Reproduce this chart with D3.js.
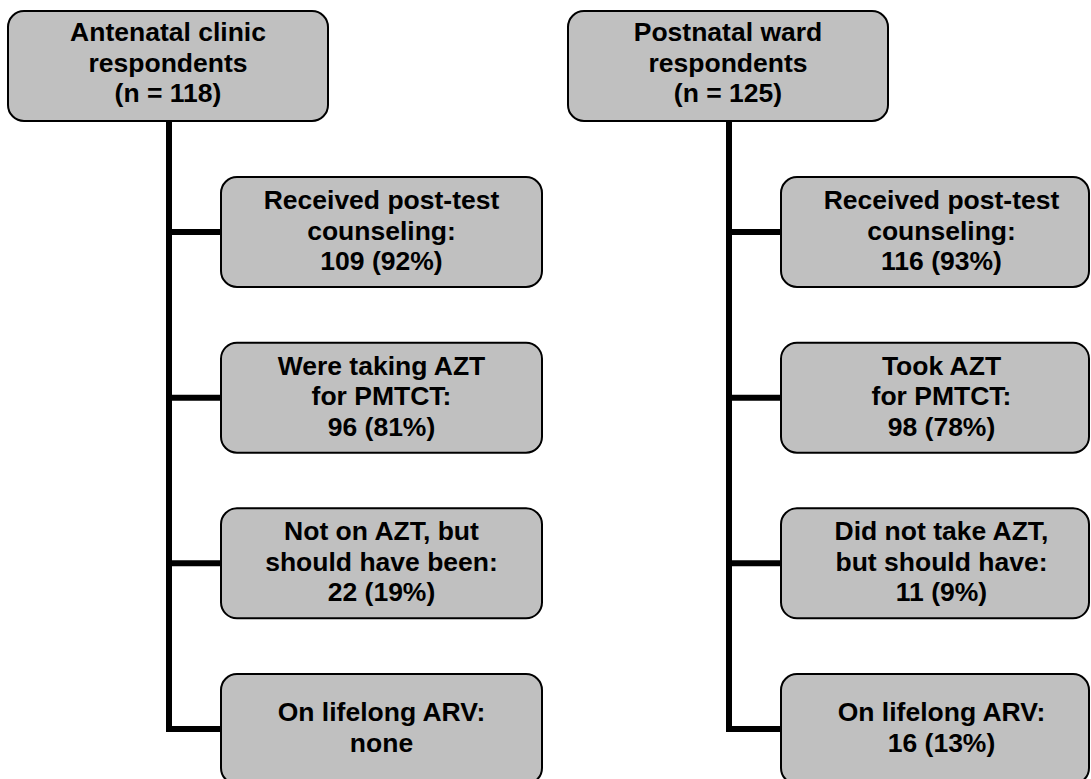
<!DOCTYPE html>
<html>
<head>
<meta charset="utf-8">
<script src="https://cdn.jsdelivr.net/npm/d3@7"></script>
<style>
  body { margin: 0; background: #fff; }
  text { font-family: "Liberation Sans", Arial, sans-serif; font-weight: bold; fill: #000; }
</style>
</head>
<body>
<div id="vis"></div>
<script>
const FRAME_WIDTH = 1091;
const FRAME_HEIGHT = 779;

// the two groups of respondents
const groups = ["Antenatal clinic", "Postnatal ward"];
const totals = [118, 125];

// outcome labels (text lines before the count) for each group
const leftLabels = [
  ["Received post-test", "counseling:"],
  ["Were taking AZT", "for PMTCT:"],
  ["Not on AZT, but", "should have been:"],
  ["On lifelong ARV:"]
];
const rightLabels = [
  ["Received post-test", "counseling:"],
  ["Took AZT", "for PMTCT:"],
  ["Did not take AZT,", "but should have:"],
  ["On lifelong ARV:"]
];
const leftCounts = [109, 96, 22, 0];
const leftPct = [92, 81, 19, null];
const rightCounts = [116, 98, 11, 16];
const rightPct = [93, 78, 9, 13];

const LINE_H = 30.5;
const BOX_H = 110;

const svg = d3.select("#vis")
  .append("svg")
    .attr("width", FRAME_WIDTH)
    .attr("height", FRAME_HEIGHT);

// row positions for the outcome boxes
const Y_ROW = d3.scaleLinear().domain([0, 3]).range([177, 674]);

const cols = [
  {trunk: 169, top: {x: 8, w: 320}, box: {x: 221, w: 321, tx: 381.5},
   labels: leftLabels, counts: leftCounts, pct: leftPct},
  {trunk: 729, top: {x: 568, w: 320}, box: {x: 781, w: 308, tx: 941.5},
   labels: rightLabels, counts: rightCounts, pct: rightPct}
];

function countText(c, p) {
  return p === null ? "none" : c + " (" + p + "%)";
}

function writeLines(g, lines, cx, cy, off) {
  const t = g.append("text").attr("text-anchor", "middle").style("font-size", "26.5px");
  lines.forEach((l, i) => {
    t.append("tspan")
      .attr("x", cx)
      .attr("y", cy - (lines.length - 1) / 2 * LINE_H + i * LINE_H + off)
      .text(l);
  });
}

cols.forEach((c, gi) => {
  const g = svg.append("g");
  const rows = c.counts.map((d, i) => ({
    lines: c.labels[i].concat([countText(d, c.pct[i])]),
    y: Y_ROW(i)
  }));
  const lastMid = rows[rows.length - 1].y + BOX_H / 2;

  // trunk + bottom elbow
  g.append("path")
    .attr("d", "M" + c.trunk + ",121 V" + lastMid + " H" + c.box.x)
    .attr("fill", "none")
    .attr("stroke", "#000")
    .attr("stroke-width", 6);

  // connectors
  g.selectAll("line.conn")
    .data(rows.slice(0, -1))
    .enter()
    .append("line")
      .attr("x1", c.trunk)
      .attr("x2", c.box.x)
      .attr("y1", d => d.y + BOX_H / 2)
      .attr("y2", d => d.y + BOX_H / 2)
      .attr("stroke", "#000")
      .attr("stroke-width", 6);

  // top box
  g.append("rect")
    .attr("x", c.top.x).attr("y", 11)
    .attr("width", c.top.w).attr("height", BOX_H)
    .attr("rx", 16).attr("ry", 16)
    .attr("fill", "#c0c0c0").attr("stroke", "#000").attr("stroke-width", 2);
  writeLines(g, [groups[gi], "respondents", "(n = " + totals[gi] + ")"],
    c.top.x + c.top.w / 2, 66, 5.5);

  // outcome boxes
  rows.forEach(r => {
    g.append("rect")
      .attr("x", c.box.x).attr("y", r.y)
      .attr("width", c.box.w).attr("height", BOX_H)
      .attr("rx", 16).attr("ry", 16)
      .attr("fill", "#c0c0c0").attr("stroke", "#000").attr("stroke-width", 2);
    writeLines(g, r.lines, c.box.tx, r.y + BOX_H / 2, 7.5);
  });
});
</script>
</body>
</html>
